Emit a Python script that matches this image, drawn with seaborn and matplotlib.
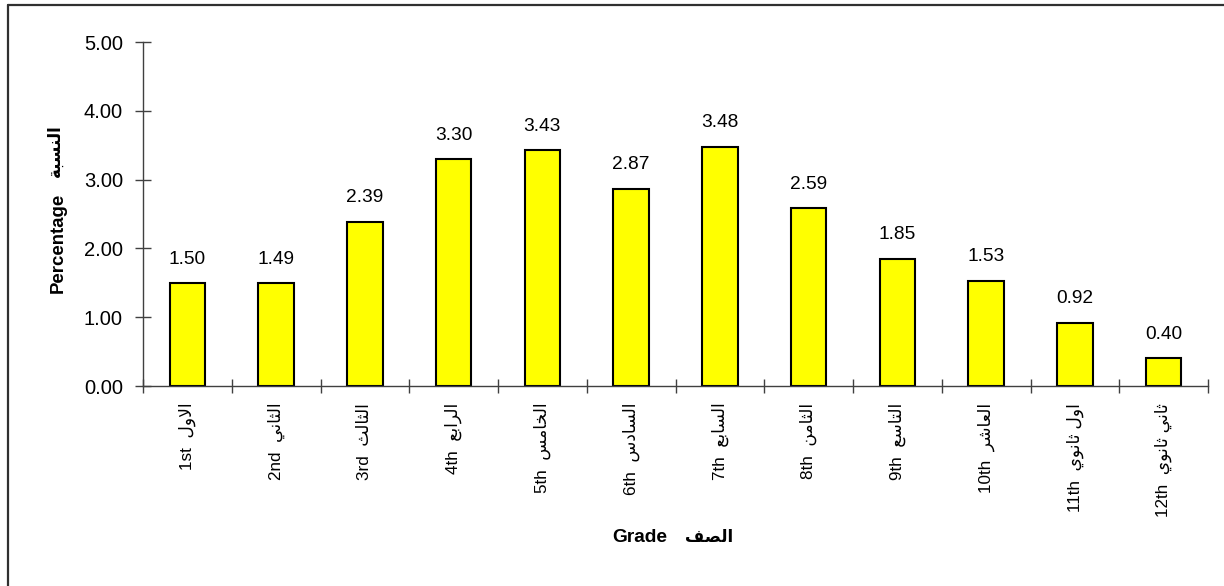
import numpy as np
import pandas as pd
import matplotlib
matplotlib.use("Agg")
import matplotlib.pyplot as plt
from matplotlib.lines import Line2D
from matplotlib.ticker import FormatStrFormatter
import seaborn as sns

# ---------------- data ----------------
grades_en = ["1st", "2nd", "3rd", "4th", "5th", "6th", "7th", "8th", "9th", "10th", "11th", "12th"]
grades_ar = ["الاول", "الثاني", "الثالث", "الرابع", "الخامس", "السادس", "السابع",
             "الثامن", "التاسع", "العاشر", "اول ثانوي", "ثاني ثانوي"]
percentages = [1.50, 1.49, 2.39, 3.30, 3.43, 2.87, 3.48, 2.59, 1.85, 1.53, 0.92, 0.40]
y_ticks = [0, 1, 2, 3, 4, 5]
xlabel_en, xlabel_ar = "Grade", "الصف"
ylabel_en, ylabel_ar = "Percentage", "النسبة"

# ------------- minimal Arabic shaping (presentation forms, visual order) -------------
FORMS = {
    'ا': ('\uFE8D', '\uFE8E', None, None),
    'ب': ('\uFE8F', '\uFE90', '\uFE91', '\uFE92'),
    'ة': ('\uFE93', '\uFE94', None, None),
    'ت': ('\uFE95', '\uFE96', '\uFE97', '\uFE98'),
    'ث': ('\uFE99', '\uFE9A', '\uFE9B', '\uFE9C'),
    'خ': ('\uFEA5', '\uFEA6', '\uFEA7', '\uFEA8'),
    'د': ('\uFEA9', '\uFEAA', None, None),
    'ر': ('\uFEAD', '\uFEAE', None, None),
    'س': ('\uFEB1', '\uFEB2', '\uFEB3', '\uFEB4'),
    'ش': ('\uFEB5', '\uFEB6', '\uFEB7', '\uFEB8'),
    'ص': ('\uFEB9', '\uFEBA', '\uFEBB', '\uFEBC'),
    'ع': ('\uFEC9', '\uFECA', '\uFECB', '\uFECC'),
    'ف': ('\uFED1', '\uFED2', '\uFED3', '\uFED4'),
    'ل': ('\uFEDD', '\uFEDE', '\uFEDF', '\uFEE0'),
    'م': ('\uFEE1', '\uFEE2', '\uFEE3', '\uFEE4'),
    'ن': ('\uFEE5', '\uFEE6', '\uFEE7', '\uFEE8'),
    'و': ('\uFEED', '\uFEEE', None, None),
    'ي': ('\uFEF1', '\uFEF2', '\uFEF3', '\uFEF4'),
    'LA': ('\uFEFB', '\uFEFC', None, None),
}


def shape_ar(s):
    toks = []
    i = 0
    while i < len(s):
        if s[i] == 'ل' and i + 1 < len(s) and s[i + 1] == 'ا':
            toks.append('LA')
            i += 2
        else:
            toks.append(s[i])
            i += 1

    def dual(t):
        return t in FORMS and FORMS[t][2] is not None

    out = []
    n = len(toks)
    for k, t in enumerate(toks):
        if t not in FORMS:
            out.append(t)
            continue
        p = k > 0 and dual(toks[k - 1])
        nx = k < n - 1 and dual(t) and toks[k + 1] in FORMS
        if p and nx:
            idx = 3
        elif p:
            idx = 1
        elif nx:
            idx = 2
        else:
            idx = 0
        out.append(FORMS[t][idx])
    return ''.join(out)[::-1]


labels = [f"{e}  {shape_ar(a)}" for e, a in zip(grades_en, grades_ar)]
df = pd.DataFrame({"label": labels, "pct": percentages})

# ---------------- style ----------------
sns.set_style("white")
plt.rcParams['font.family'] = ['Liberation Sans', 'DejaVu Sans']
plt.rcParams['text.color'] = 'black'
plt.rcParams['axes.labelcolor'] = 'black'
plt.rcParams['xtick.labelcolor'] = 'black'
plt.rcParams['ytick.labelcolor'] = 'black'
axis_col = "#404040"

fig = plt.figure(figsize=(12.24, 5.86), dpi=100)
W, H = 1224, 586
x0, x1, y0, y1 = 143, 1208, 42, 386
ax = fig.add_axes([x0 / W, 1 - y1 / H, (x1 - x0) / W, (y1 - y0) / H])

sns.barplot(data=df, x="label", y="pct", color="#FFFF00", saturation=1,
            edgecolor="black", linewidth=1.5, width=0.4, ax=ax)

ax.bar_label(ax.containers[0], fmt="%.2f", padding=11, fontsize=13.8, color="black")

ax.set_ylim(0, 5)
ax.set_xlim(-0.5, len(labels) - 0.5)
ax.set_yticks(y_ticks)
ax.yaxis.set_major_formatter(FormatStrFormatter("%.2f"))
ax.set_xticks(np.arange(-0.5, len(labels), 1), minor=True)

ax.tick_params(axis='x', which='major', bottom=True, length=0, pad=12, labelsize=12.3,
               labelrotation=90, labelcolor="black")
ax.tick_params(axis='x', which='minor', bottom=True, direction='inout', length=10, width=1, color=axis_col)
ax.tick_params(axis='y', which='major', left=True, direction='inout', length=11, width=1, color=axis_col,
               labelsize=14.5, pad=9, labelcolor="black")

for s in ["top", "right"]:
    ax.spines[s].set_visible(False)
for s in ["left", "bottom"]:
    ax.spines[s].set_color(axis_col)
    ax.spines[s].set_linewidth(1)

# axis titles: English part as the axis label, Arabic part beside it
ax.set_xlabel(xlabel_en, fontsize=13.8, fontweight="bold", color="black")
ax.xaxis.set_label_coords((640 - x0) / (x1 - x0), (y1 - 529) / (y1 - y0))
ax.xaxis.label.set_va("top")
ax.text((709 - x0) / (x1 - x0), (y1 - 530) / (y1 - y0), shape_ar(xlabel_ar), transform=ax.transAxes,
        ha="center", va="top", fontsize=12, fontweight="bold", color="black")

ax.set_ylabel(ylabel_en, fontsize=13.4, fontweight="bold", color="black")
ax.yaxis.set_label_coords(-0.072, (y1 - 243) / (y1 - y0))
ax.text((55 - x0) / (x1 - x0), (y1 - 151) / (y1 - y0), shape_ar(ylabel_ar), transform=ax.transAxes,
        ha="center", va="center", rotation=90, fontsize=12, fontweight="bold", color="black")

# outer chart border (left and top visible)
fig.add_artist(Line2D([8 / W, 8 / W], [0, 1 - 5 / H], color="#303030", lw=1.6))
fig.add_artist(Line2D([8 / W, 1], [1 - 5 / H, 1 - 5 / H], color="#303030", lw=1.6))

fig.savefig("out.png", dpi=100)
